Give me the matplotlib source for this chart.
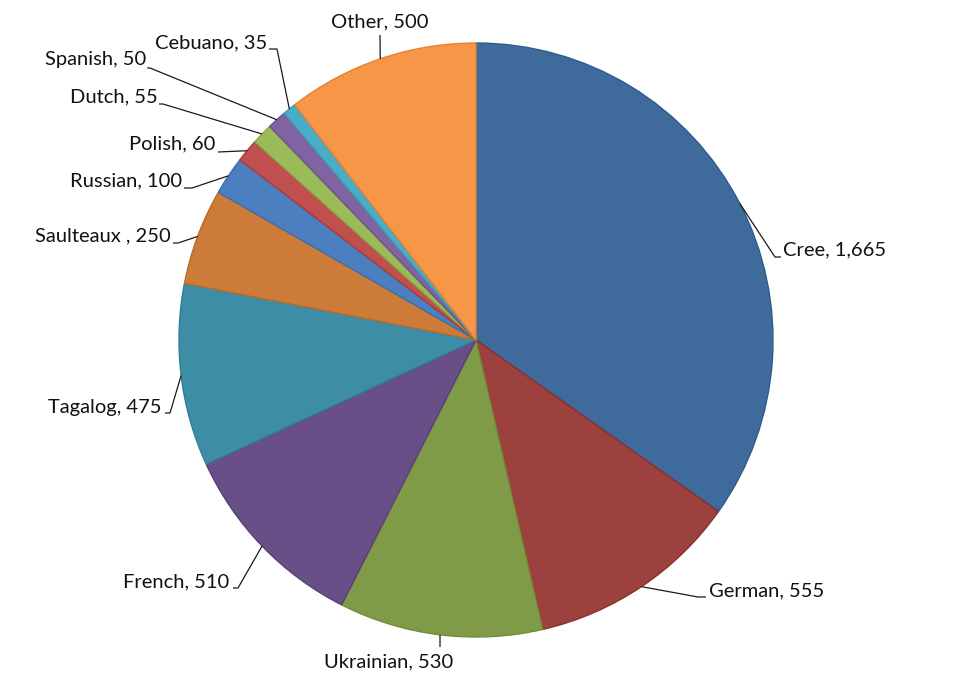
import numpy as np
import matplotlib
matplotlib.use("Agg")
import matplotlib.pyplot as plt

# Data
languages = ["Cree", "German", "Ukrainian", "French", "Tagalog", "Saulteaux ",
             "Russian", "Polish", "Dutch", "Spanish", "Cebuano", "Other"]
speakers = [1665, 555, 530, 510, 475, 250, 100, 60, 55, 50, 35, 500]

fills = ["#3F6A9C", "#9C413E", "#7F9B48", "#684F88", "#3C8DA5", "#CC7B38",
         "#4C7FC0", "#C0504D", "#9BBB59", "#8064A2", "#4BACC6", "#F79646"]
edges = ["#2E5A8E", "#8C2F2D", "#6E8F35", "#5A3F7A", "#2E7E96", "#C26A25",
         "#3A6FB0", "#AA3B38", "#85A845", "#6E5290", "#3A9AB4", "#E5832F"]

# Label layout in pixels (origin top-left): leader bend points and text anchor
leader_pts = [[(775, 257), (781, 257)],
              [(698, 597), (706, 597)],
              [(440, 647)],
              [(238, 588), (233, 588)],
              [(170, 413), (165, 413)],
              [(178, 243), (173, 243)],
              [(192, 188), (184, 188)],
              [(218, 152)],
              [(163, 104), (159, 104)],
              [(150, 68), (147, 68)],
              [(277, 49), (269, 49)],
              [(380, 35)]]
text_pos = [(783, 250, "left"), (709, 591, "left"), (389, 662, "center"),
            (229, 582, "right"), (162, 407, "right"), (171, 236, "right"),
            (182, 181, "right"), (215, 144, "right"), (158, 97, "right"),
            (146, 60, "right"), (267, 43, "right"), (380, 22, "center")]

W, H = 960, 690
cx, cy, r = 476, 340, 297

fig = plt.figure(figsize=(9.6, 6.9), dpi=100)
ax = fig.add_axes([0, 0, 1, 1])

wedges, _ = ax.pie(speakers, colors=fills, startangle=90, counterclock=False,
                   center=(cx, H - cy), radius=r,
                   wedgeprops=dict(linewidth=1.0))
for w, ec in zip(wedges, edges):
    w.set_edgecolor(ec)

ax.set_xlim(0, W)
ax.set_ylim(0, H)
ax.set_aspect("equal")
ax.axis("off")

for w, name, val, pts, (tx, ty, ha) in zip(wedges, languages, speakers,
                                            leader_pts, text_pos):
    mid = np.deg2rad((w.theta1 + w.theta2) / 2)
    ax0 = cx + r * np.cos(mid)
    ay0 = (H - cy) + r * np.sin(mid)
    xs = [ax0] + [p[0] for p in pts]
    ys = [ay0] + [H - p[1] for p in pts]
    ax.plot(xs, ys, color="#1a1a1a", linewidth=0.9, solid_capstyle="butt")
    ax.text(tx, H - ty, f"{name}, {val:,}", ha=ha, va="center",
            fontsize=14.5, family=["Lato", "DejaVu Sans"], color="#111111")

fig.savefig("out.png", dpi=100, facecolor="white")
